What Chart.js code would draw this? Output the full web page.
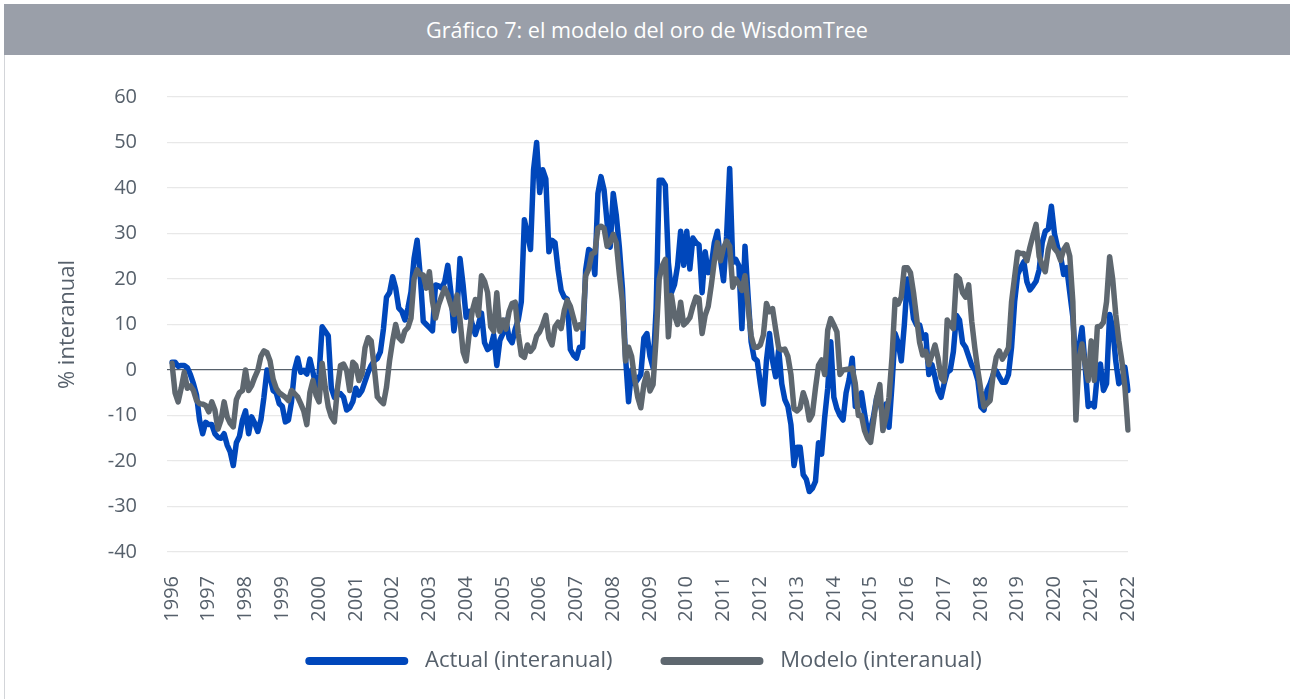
<!DOCTYPE html>
<html>
<head>
<meta charset="utf-8">
<script src="https://cdn.jsdelivr.net/npm/chart.js@4.4.1/dist/chart.umd.min.js"></script>
<style>
  html, body { margin: 0; padding: 0; background: #ffffff; }
  #wrap { position: relative; width: 1290px; height: 699px; overflow: hidden; background: #fff; }
  #band { position: absolute; left: 4px; top: 4px; width: 1286px; height: 51px; background: #9a9fa9;
          color: #ffffff; font-family: "Open Sans", sans-serif; font-size: 21.6px; line-height: 51px; text-align: center; }
  #frame { position: absolute; left: 4px; top: 55px; width: 1px; height: 650px; background: #d3d5d9; }
  #cv { position: absolute; left: 5px; top: 55px; width: 1285px; height: 644px; }
</style>
</head>
<body>
<div id="wrap">
  <div id="band">Gráfico 7: el modelo del oro de WisdomTree</div>
  <div id="frame"></div>
  <canvas id="cv" width="1285" height="644"></canvas>
</div>
<script>
// Year tick labels (one per January)
const yearTicks = ['1996','1997','1998','1999','2000','2001','2002','2003','2004','2005','2006','2007','2008',
                   '2009','2010','2011','2012','2013','2014','2015','2016','2017','2018','2019','2020','2021','2022'];

// Monthly categories Jan 1996 .. Jan 2022
const months = [];
yearTicks.forEach((y, k) => {
  const last = (k === yearTicks.length - 1) ? 1 : 12;
  for (let m = 1; m <= last; m++) months.push(y + '-' + String(m).padStart(2, '0'));
});

// Actual gold price, % y/y
const actual = [
  1.7, 1.7, 0.8, 1.0, 1.0, 0.5, -1, -3, -5.5, -11, -14, -11.5,            // 1996
  -12, -12, -14, -14.8, -15, -14, -16.5, -18, -21, -16, -14.6, -11,        // 1997
  -9, -14, -10.3, -11.7, -13.5, -11, -6, 0, -1.6, -4.5, -5, -7.4,           // 1998
  -8, -11.4, -11, -7, 0, 2.6, -0.5, -0.1, -0.9, 2.4, -0.5, -3.8,           // 1999
  -1, 9.5, 8.5, 7.5, -4, -6, -5.5, -5.2, -6, -8.8, -8.3, -7,               // 2000
  -4, -5.5, -4.5, -2.5, -0.5, 1, 2, 2.5, 4, 9, 16, 17,                     // 2001
  20.5, 18, 13.6, 12.9, 11, 13.6, 17.2, 24.5, 28.5, 20.9, 10.7, 10,        // 2002
  9.3, 8.6, 18.7, 18.5, 18, 19.4, 23, 17.2, 8.6, 12.9, 24.5, 18.7,         // 2003
  11.6, 12.9, 10, 7.8, 10, 12.5, 6, 4.5, 5, 7.7, 1, 6.5,                   // 2004
  8, 11, 7, 6, 9, 11, 15, 33, 30, 26.5, 44, 50,                            // 2005
  39, 44, 42, 26, 28.5, 28, 22, 17.5, 16, 15.6, 4.5, 3.3,                  // 2006
  2.6, 5, 5, 22, 26.5, 26, 21, 38.8, 42.5, 39.6, 32.3, 27,                 // 2007
  38.8, 34, 27, 18, 3, -7, 0, -3, -2, -1, 7, 8,                            // 2008
  3, 0.5, 13.5, 41.7, 41.7, 40.6, 23.6, 17, 18.8, 22.9, 30.5, 23,          // 2009
  30.5, 22.2, 29, 28, 27.5, 17, 26, 21.4, 23, 28, 30.5, 24.3,              // 2010
  19.6, 29.4, 44.3, 23.6, 24.3, 22.9, 9.1, 27.2, 16.4, 6.2, 2.6, 2,        // 2011
  -3, -7.5, 2, 8, 2, -1.5, 4.5, -3, -6.5, -8, -12, -21,                    // 2012
  -17, -17, -23, -24, -26.7, -26, -24.5, -16, -18.5, -10.5, -4, 6.2,       // 2013
  -6, -8.5, -10, -11, -5, -2, 2.6, -8, -8, -5, -9.5, -13.5,                // 2014
  -13, -10, -6, -7, -10, -7.5, -12.6, -3, 8, 6, 2, 9.9,                    // 2015
  20, 17, 11.3, 9.9, 9.9, 7, 7.7, -1, 1.2, -1.5, -4.6, -6,                 // 2016
  -3, -0.5, 0, 4, 12, 11, 6, 5, 3, 1, 0, -2.3,                             // 2017
  -8.1, -8.8, -4.5, -3, -1, -0.2, -1.5, -2.7, -2.7, -1, 5, 15,             // 2018
  21, 22.5, 23.8, 19.4, 17.6, 18.5, 19.5, 22, 28, 30.5, 31, 36,            // 2019
  30, 27, 25, 21, 22.5, 17, 11.6, 0.6, 5, 9.3, 1, -8,                      // 2020
  -7.4, -8.1, -0.9, 1.3, -4.5, -3, 12.2, 9.3, 2, -3, -2.3, 0.6,            // 2021
  -4.5                                                                     // 2022
];

// WisdomTree model, % y/y
const model = [
  1.5, -5, -7, -4, -0.5, -4, -3.5, -4.5, -6.7, -7.4, -7.5, -7.8,          // 1996
  -9.2, -7, -8.8, -13, -11, -7, -10.3, -11.7, -12.5, -6.5, -5, -4.5,       // 1997
  0, -4.5, -3.4, -1.6, -0.1, 3, 4.2, 3.8, 2, -2, -4, -5,                   // 1998
  -5.5, -6, -6.7, -4.5, -5.2, -5.9, -7.4, -9, -12, -5, -2.3, -5.5,         // 1999
  -7, 1.5, -3.8, -8.1, -10.3, -11.4, -4, 1, 1.3, -0.1, -4.5, 1.7,          // 2000
  1, -2.3, -0.9, 4.9, 7.1, 6.4, 0.6, -5.9, -6.7, -7.4, -3.8, 2,            // 2001
  6.4, 10, 7.1, 6.4, 8.6, 9.3, 11.4, 20, 22, 21, 20.9, 18,                 // 2002
  21.6, 15.1, 11.4, 14.3, 16.2, 18, 16.5, 14.3, 12.2, 16.5, 11, 4,         // 2003
  2, 8, 13, 15.5, 12, 20.7, 19.5, 17, 9.5, 8.5, 17, 8.5,                   // 2004
  11, 9, 12.8, 14.6, 14.9, 8, 3.3, 2.8, 5.5, 4.1, 5, 7.5,                  // 2005
  8.4, 10, 12, 7, 5.5, 9.5, 10.5, 9.1, 13, 15.3, 14, 11.5,                 // 2006
  9, 9.9, 9.1, 20.7, 22.2, 25.5, 25.8, 31.2, 31.6, 31.2, 27.2, 28,         // 2007
  29.8, 28, 21, 15, 2, 5, 3, -2, -6, -8.3, -3.2, -0.7,                     // 2008
  -4.6, -3.2, 7, 20, 22.9, 24.3, 7.3, 16.4, 12, 10, 14.9, 9.9,             // 2009
  10.6, 11.5, 14, 16, 15.7, 8, 12, 14, 18.6, 24, 28, 24,                   // 2010
  26.9, 28.3, 27.2, 18.2, 20, 19, 17.5, 20.7, 14, 7.5, 5, 5,               // 2011
  5.5, 7.7, 14.6, 12.8, 13.5, 9, 4.8, 4.4, 4.6, 3, -1, -8.5,               // 2012
  -9, -8.3, -5, -7, -11, -9.7, -4, 1, 2.2, -1, 8.8, 11.3,                  // 2013
  9.9, 8.4, -1, 0, 0.1, 0.2, 0.4, -3, -10, -10, -13.3, -15,                // 2014
  -15.9, -11, -6, -3.2, -13.3, -10.4, -6, 3, 15.5, 14.5, 16, 22.5,         // 2015
  22.5, 21.4, 17, 11.5, 6, 3.3, 4.1, 1.2, 3.3, 5.5, 2.6, -1.7,             // 2016
  -2.5, 11, 10, 9.1, 20.7, 20, 17, 16, 18.7, 10.7, 4.9, -0.1,              // 2017
  -4.5, -8.1, -7.4, -6.7, -1, 2.8, 4.2, 2.4, 3.5, 4.9, 15, 20.5,           // 2018
  25.9, 25.6, 25.6, 24, 27, 29.6, 32, 25, 23, 21.6, 26.5, 29,              // 2019
  26.7, 25.9, 24.1, 26.5, 27.5, 25, 15, -11, 2.5, 5.7, 1.3, -2.3,          // 2020
  6.4, -2.3, 9.5, 9.6, 10.5, 15, 24.9, 20, 12.2, 6.4, 2, -3.8,             // 2021
  -13.2                                                                    // 2022
];

const seriesNames = ['Actual (interanual)', 'Modelo (interanual)'];
const yTitle = '% interanual';

const BLUE = '#0047bb';
const GREY = '#5e676f';
const TXT = '#56606b';
const FONT = '"Open Sans", sans-serif';

new Chart(document.getElementById('cv'), {
  type: 'line',
  data: {
    labels: months,
    datasets: [
      { label: seriesNames[0], data: actual, borderColor: BLUE, backgroundColor: BLUE, borderWidth: 5.5,
        pointRadius: 0, tension: 0, borderJoinStyle: 'round', borderCapStyle: 'round', order: 1 },
      { label: seriesNames[1], data: model, borderColor: GREY, backgroundColor: GREY, borderWidth: 5.5,
        pointRadius: 0, tension: 0, borderJoinStyle: 'round', borderCapStyle: 'round', order: 0 }
    ]
  },
  options: {
    responsive: false,
    animation: false,
    devicePixelRatio: 1,
    layout: { padding: { left: 0, right: 8, top: 40, bottom: 17 } },
    plugins: {
      tooltip: { enabled: false },
      legend: {
        position: 'bottom',
        labels: {
          boxWidth: 103, boxHeight: 8, useBorderRadius: true, borderRadius: 4,
          padding: 48, color: TXT, font: { family: FONT, size: 22 },
          sort: (a, b) => a.datasetIndex - b.datasetIndex,
          generateLabels: (chart) => Chart.defaults.plugins.legend.labels.generateLabels(chart)
            .map(l => Object.assign(l, { lineWidth: 0, text: ' ' + l.text }))
        }
      }
    },
    scales: {
      x: {
        type: 'category',
        offset: false,
        grid: { display: false, drawTicks: false },
        border: { display: false },
        ticks: {
          autoSkip: false, minRotation: 90, maxRotation: 90, padding: 24,
          color: TXT, font: { family: FONT, size: 20 },
          callback: (val, idx) => (idx % 12 === 0 ? yearTicks[idx / 12] : null)
        },
        afterFit: (s) => { s.height = 50; s._computeLabelArea = () => null; }
      },
      y: {
        min: -40, max: 60,
        grid: {
          color: (c) => (c.tick && c.tick.value === 0 ? '#57616b' : '#e8e8e8'),
          lineWidth: 1.2,
          drawTicks: true, tickLength: 5
        },
        border: { display: false },
        ticks: { stepSize: 10, padding: 30, color: TXT, font: { family: FONT, size: 20 } },
        title: { display: true, text: yTitle, color: TXT, font: { family: FONT, size: 22 },
                 padding: { top: 50, bottom: 0 } },
        afterFit: (s) => { s.width = 167; }
      },
      yRightSpace: {
        position: 'right',
        display: true,
        grid: { display: false, drawTicks: false },
        border: { display: false },
        ticks: { display: false },
        afterFit: (s) => { s.width = 154; }
      }
    }
  }
});
</script>
</body>
</html>
